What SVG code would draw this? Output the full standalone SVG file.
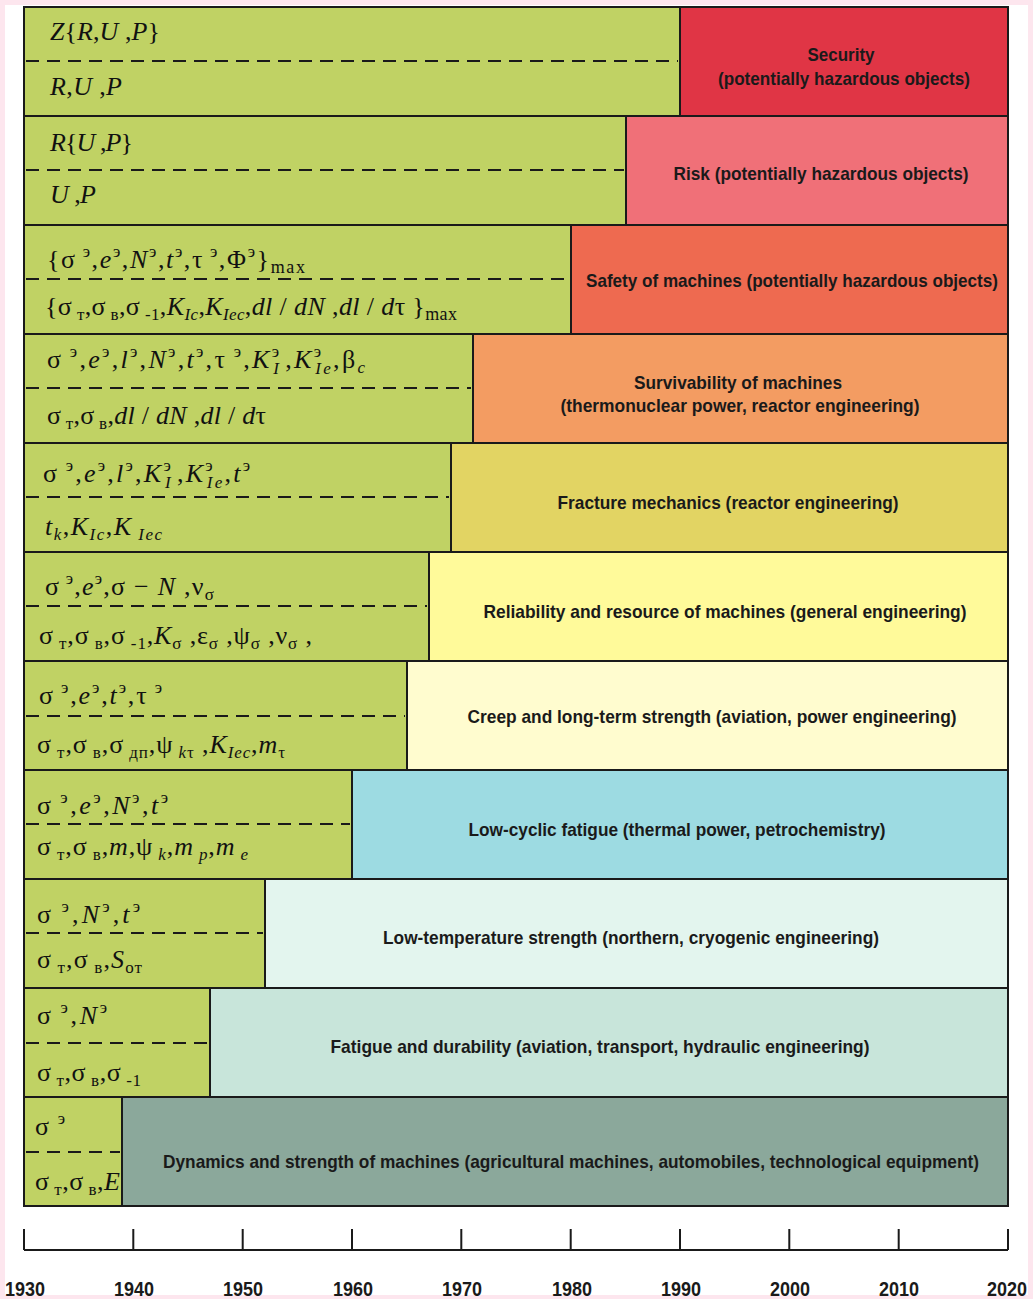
<svg xmlns="http://www.w3.org/2000/svg" width="1033" height="1299" viewBox="0 0 1033 1299">
<style>
.box{stroke:#1a1a1a;stroke-width:2}
.g{fill:#c0d264}
.dash{stroke:#1a1a1a;stroke-width:2;stroke-dasharray:13 8;fill:none}
.f{font-family:"Liberation Serif","Times New Roman",serif;font-size:26px;fill:#111}
.i{font-style:italic}
.s{font-size:17px}
.m{font-size:18px}
.lab{font-family:"Liberation Sans Narrow","Arial Narrow","Liberation Sans",sans-serif;font-weight:bold;font-size:19px;fill:#1a1a1a;text-anchor:middle}
.yr{font-family:"Liberation Sans Narrow","Arial Narrow","Liberation Sans",sans-serif;font-weight:bold;font-size:21px;fill:#1a1a1a;text-anchor:middle}
.ax{stroke:#1a1a1a;stroke-width:2;fill:none}
</style>
<rect x="0" y="0" width="1033" height="1299" fill="#fde6ee"/>
<rect x="5" y="5" width="1023" height="1290" fill="#ffffff"/>

<g id="row1">
<rect class="box g" x="24" y="7" width="656" height="109"/>
<rect class="box" fill="#e03545" x="680" y="7" width="328" height="109"/>
<line class="dash" x1="26" y1="61" x2="678" y2="61"/>
<text class="f" x="50" y="40" textLength="110" lengthAdjust="spacing"><tspan class="i">Z</tspan>{<tspan class="i">R</tspan>,<tspan class="i">U</tspan> ,<tspan class="i">P</tspan>}</text>
<text class="f" x="50" y="95" textLength="72" lengthAdjust="spacing"><tspan class="i">R</tspan>,<tspan class="i">U</tspan> ,<tspan class="i">P</tspan></text>
<text class="lab" x="841" y="61" textLength="67" lengthAdjust="spacingAndGlyphs">Security</text>
<text class="lab" x="844" y="85" textLength="252" lengthAdjust="spacingAndGlyphs">(potentially hazardous objects)</text>
</g>

<g id="row2">
<rect class="box g" x="24" y="116" width="602" height="109"/>
<rect class="box" fill="#f07078" x="626" y="116" width="382" height="109"/>
<line class="dash" x1="26" y1="170" x2="624" y2="170"/>
<text class="f" x="50" y="151" textLength="83" lengthAdjust="spacing"><tspan class="i">R</tspan>{<tspan class="i">U</tspan> ,<tspan class="i">P</tspan>}</text>
<text class="f" x="50" y="203" textLength="46" lengthAdjust="spacing"><tspan class="i">U</tspan> ,<tspan class="i">P</tspan></text>
<text class="lab" x="821" y="180" textLength="295" lengthAdjust="spacingAndGlyphs">Risk (potentially hazardous objects)</text>
</g>

<g id="row3">
<rect class="box g" x="24" y="225" width="547" height="109"/>
<rect class="box" fill="#ee6a50" x="571" y="225" width="437" height="109"/>
<line class="dash" x1="26" y1="279" x2="569" y2="279"/>
<text class="f" x="47" y="268" textLength="258" lengthAdjust="spacing">{σ<tspan class="s" dy="-11"> э</tspan><tspan dy="11">,</tspan><tspan class="i">e</tspan><tspan class="s" dy="-11">э</tspan><tspan dy="11">,</tspan><tspan class="i">N</tspan><tspan class="s" dy="-11">э</tspan><tspan dy="11">,</tspan><tspan class="i">t</tspan><tspan class="s" dy="-11">э</tspan><tspan dy="11">,</tspan>τ<tspan class="s" dy="-11"> э</tspan><tspan dy="11">,</tspan>Φ<tspan class="s" dy="-11">э</tspan><tspan dy="11">}</tspan><tspan class="m" dy="5">max</tspan></text>
<text class="f" x="45" y="315" textLength="412" lengthAdjust="spacing">{σ<tspan class="s" dy="5"> т</tspan><tspan dy="-5">,</tspan>σ<tspan class="s" dy="5"> в</tspan><tspan dy="-5">,</tspan>σ<tspan class="s" dy="5"> -1</tspan><tspan dy="-5">,</tspan><tspan class="i">K</tspan><tspan class="s i" dy="5">Ic</tspan><tspan dy="-5">,</tspan><tspan class="i">K</tspan><tspan class="s i" dy="5">Iec</tspan><tspan dy="-5">,</tspan><tspan class="i">dl</tspan> / <tspan class="i">dN</tspan> ,<tspan class="i">dl</tspan> / <tspan class="i">d</tspan>τ }<tspan class="m" dy="5">max</tspan></text>
<text class="lab" x="792" y="287" textLength="412" lengthAdjust="spacingAndGlyphs">Safety of machines (potentially hazardous objects)</text>
</g>

<g id="row4">
<rect class="box g" x="24" y="334" width="449" height="109"/>
<rect class="box" fill="#f39c62" x="473" y="334" width="535" height="109"/>
<line class="dash" x1="26" y1="388" x2="471" y2="388"/>
<text class="f" x="47" y="368" textLength="318" lengthAdjust="spacing">σ<tspan class="s" dy="-11"> э</tspan><tspan dy="11">,</tspan><tspan class="i">e</tspan><tspan class="s" dy="-11">э</tspan><tspan dy="11">,</tspan><tspan class="i">l</tspan><tspan class="s" dy="-11">э</tspan><tspan dy="11">,</tspan><tspan class="i">N</tspan><tspan class="s" dy="-11">э</tspan><tspan dy="11">,</tspan><tspan class="i">t</tspan><tspan class="s" dy="-11">э</tspan><tspan dy="11">,</tspan>τ<tspan class="s" dy="-11"> э</tspan><tspan dy="11">,</tspan><tspan class="i">K</tspan><tspan class="s" dy="-11">э</tspan><tspan class="s i" dx="-8" dy="17">I</tspan><tspan dx="4" dy="-6">,</tspan><tspan class="i">K</tspan><tspan class="s" dy="-11">э</tspan><tspan class="s i" dx="-8" dy="17">Ie</tspan><tspan dy="-6">,</tspan>β<tspan class="s i" dy="5">c</tspan></text>
<text class="f" x="47" y="424" textLength="219" lengthAdjust="spacing">σ<tspan class="s" dy="5"> т</tspan><tspan dy="-5">,</tspan>σ<tspan class="s" dy="5"> в</tspan><tspan dy="-5">,</tspan><tspan class="i">dl</tspan> / <tspan class="i">dN</tspan> ,<tspan class="i">dl</tspan> / <tspan class="i">d</tspan>τ</text>
<text class="lab" x="738" y="389" textLength="208" lengthAdjust="spacingAndGlyphs">Survivability of machines</text>
<text class="lab" x="740" y="412" textLength="359" lengthAdjust="spacingAndGlyphs">(thermonuclear power, reactor engineering)</text>
</g>

<g id="row5">
<rect class="box g" x="24" y="443" width="427" height="109"/>
<rect class="box" fill="#e2d463" x="451" y="443" width="557" height="109"/>
<line class="dash" x1="26" y1="497" x2="449" y2="497"/>
<text class="f" x="43" y="482" textLength="207" lengthAdjust="spacing">σ<tspan class="s" dy="-11"> э</tspan><tspan dy="11">,</tspan><tspan class="i">e</tspan><tspan class="s" dy="-11">э</tspan><tspan dy="11">,</tspan><tspan class="i">l</tspan><tspan class="s" dy="-11">э</tspan><tspan dy="11">,</tspan><tspan class="i">K</tspan><tspan class="s" dy="-11">э</tspan><tspan class="s i" dx="-8" dy="17">I</tspan><tspan dx="4" dy="-6">,</tspan><tspan class="i">K</tspan><tspan class="s" dy="-11">э</tspan><tspan class="s i" dx="-8" dy="17">Ie</tspan><tspan dy="-6">,</tspan><tspan class="i">t</tspan><tspan class="s" dy="-11">э</tspan></text>
<text class="f" x="45" y="535" textLength="117" lengthAdjust="spacing"><tspan class="i">t</tspan><tspan class="s i" dy="5">k</tspan><tspan dy="-5">,</tspan><tspan class="i">K</tspan><tspan class="s i" dy="5">Ic</tspan><tspan dy="-5">,</tspan><tspan class="i">K</tspan><tspan class="s i" dy="5"> Iec</tspan></text>
<text class="lab" x="728" y="509" textLength="341" lengthAdjust="spacingAndGlyphs">Fracture mechanics (reactor engineering)</text>
</g>

<g id="row6">
<rect class="box g" x="24" y="552" width="405" height="109"/>
<rect class="box" fill="#fffa9a" x="429" y="552" width="579" height="109"/>
<line class="dash" x1="26" y1="606" x2="427" y2="606"/>
<text class="f" x="45" y="595" textLength="169" lengthAdjust="spacing">σ<tspan class="s" dy="-11"> э</tspan><tspan dy="11">,</tspan><tspan class="i">e</tspan><tspan class="s" dy="-11">э</tspan><tspan dy="11">,</tspan>σ − <tspan class="i">N</tspan> ,ν<tspan class="s" dy="5">σ</tspan></text>
<text class="f" x="39" y="644" textLength="273" lengthAdjust="spacing">σ<tspan class="s" dy="5"> т</tspan><tspan dy="-5">,</tspan>σ<tspan class="s" dy="5"> в</tspan><tspan dy="-5">,</tspan>σ<tspan class="s" dy="5"> -1</tspan><tspan dy="-5">,</tspan><tspan class="i">K</tspan><tspan class="s" dy="5">σ</tspan><tspan dy="-5"> ,</tspan>ε<tspan class="s" dy="5">σ</tspan><tspan dy="-5"> ,</tspan>ψ<tspan class="s" dy="5">σ</tspan><tspan dy="-5"> ,</tspan>ν<tspan class="s" dy="5">σ</tspan><tspan dy="-5"> ,</tspan></text>
<text class="lab" x="725" y="618" textLength="483" lengthAdjust="spacingAndGlyphs">Reliability and resource of machines (general engineering)</text>
</g>

<g id="row7">
<rect class="box g" x="24" y="661" width="383" height="109"/>
<rect class="box" fill="#fffccf" x="407" y="661" width="601" height="109"/>
<line class="dash" x1="26" y1="716" x2="405" y2="716"/>
<text class="f" x="39" y="704" textLength="123" lengthAdjust="spacing">σ<tspan class="s" dy="-11"> э</tspan><tspan dy="11">,</tspan><tspan class="i">e</tspan><tspan class="s" dy="-11">э</tspan><tspan dy="11">,</tspan><tspan class="i">t</tspan><tspan class="s" dy="-11">э</tspan><tspan dy="11">,</tspan>τ<tspan class="s" dy="-11"> э</tspan></text>
<text class="f" x="37" y="753" textLength="248" lengthAdjust="spacing">σ<tspan class="s" dy="5"> т</tspan><tspan dy="-5">,</tspan>σ<tspan class="s" dy="5"> в</tspan><tspan dy="-5">,</tspan>σ<tspan class="s" dy="5"> дп</tspan><tspan dy="-5">,</tspan>ψ<tspan class="s i" dy="5"> k</tspan><tspan class="s">τ</tspan><tspan dy="-5"> ,</tspan><tspan class="i">K</tspan><tspan class="s i" dy="5">Iec</tspan><tspan dy="-5">,</tspan><tspan class="i">m</tspan><tspan class="s" dy="5">τ</tspan></text>
<text class="lab" x="712" y="723" textLength="489" lengthAdjust="spacingAndGlyphs">Creep and long-term strength (aviation, power engineering)</text>
</g>

<g id="row8">
<rect class="box g" x="24" y="770" width="328" height="109"/>
<rect class="box" fill="#9ddbe2" x="352" y="770" width="656" height="109"/>
<line class="dash" x1="26" y1="824" x2="350" y2="824"/>
<text class="f" x="37" y="814" textLength="131" lengthAdjust="spacing">σ<tspan class="s" dy="-11"> э</tspan><tspan dy="11">,</tspan><tspan class="i">e</tspan><tspan class="s" dy="-11">э</tspan><tspan dy="11">,</tspan><tspan class="i">N</tspan><tspan class="s" dy="-11">э</tspan><tspan dy="11">,</tspan><tspan class="i">t</tspan><tspan class="s" dy="-11">э</tspan></text>
<text class="f" x="37" y="855" textLength="211" lengthAdjust="spacing">σ<tspan class="s" dy="5"> т</tspan><tspan dy="-5">,</tspan>σ<tspan class="s" dy="5"> в</tspan><tspan dy="-5">,</tspan><tspan class="i">m</tspan>,ψ<tspan class="s i" dy="5"> k</tspan><tspan dy="-5">,</tspan><tspan class="i">m</tspan><tspan class="s i" dy="5"> p</tspan><tspan dy="-5">,</tspan><tspan class="i">m</tspan><tspan class="s i" dy="5"> e</tspan></text>
<text class="lab" x="677" y="836" textLength="417" lengthAdjust="spacingAndGlyphs">Low-cyclic fatigue (thermal power, petrochemistry)</text>
</g>

<g id="row9">
<rect class="box g" x="24" y="879" width="241" height="109"/>
<rect class="box" fill="#e3f5ee" x="265" y="879" width="743" height="109"/>
<line class="dash" x1="26" y1="933" x2="263" y2="933"/>
<text class="f" x="37" y="923" textLength="103" lengthAdjust="spacing">σ<tspan class="s" dy="-11"> э</tspan><tspan dy="11">,</tspan><tspan class="i">N</tspan><tspan class="s" dy="-11">э</tspan><tspan dy="11">,</tspan><tspan class="i">t</tspan><tspan class="s" dy="-11">э</tspan></text>
<text class="f" x="37" y="968" textLength="105" lengthAdjust="spacing">σ<tspan class="s" dy="5"> т</tspan><tspan dy="-5">,</tspan>σ<tspan class="s" dy="5"> в</tspan><tspan dy="-5">,</tspan><tspan class="i">S</tspan><tspan class="s" dy="5">от</tspan></text>
<text class="lab" x="631" y="944" textLength="496" lengthAdjust="spacingAndGlyphs">Low-temperature strength (northern, cryogenic engineering)</text>
</g>

<g id="row10">
<rect class="box g" x="24" y="988" width="186" height="109"/>
<rect class="box" fill="#c8e5da" x="210" y="988" width="798" height="109"/>
<line class="dash" x1="26" y1="1043" x2="208" y2="1043"/>
<text class="f" x="37" y="1024" textLength="70" lengthAdjust="spacing">σ<tspan class="s" dy="-11"> э</tspan><tspan dy="11">,</tspan><tspan class="i">N</tspan><tspan class="s" dy="-11">э</tspan></text>
<text class="f" x="37" y="1081" textLength="104" lengthAdjust="spacing">σ<tspan class="s" dy="5"> т</tspan><tspan dy="-5">,</tspan>σ<tspan class="s" dy="5"> в</tspan><tspan dy="-5">,</tspan>σ<tspan class="s" dy="5"> -1</tspan></text>
<text class="lab" x="600" y="1053" textLength="539" lengthAdjust="spacingAndGlyphs">Fatigue and durability (aviation, transport, hydraulic engineering)</text>
</g>

<g id="row11">
<rect class="box g" x="24" y="1097" width="98" height="109"/>
<rect class="box" fill="#8ba89b" x="122" y="1097" width="886" height="109"/>
<line class="dash" x1="26" y1="1152" x2="120" y2="1152"/>
<text class="f" x="35" y="1135" textLength="30" lengthAdjust="spacing">σ<tspan class="s" dy="-11"> э</tspan></text>
<text class="f" x="35" y="1190" textLength="85" lengthAdjust="spacing">σ<tspan class="s" dy="5"> т</tspan><tspan dy="-5">,</tspan>σ<tspan class="s" dy="5"> в</tspan><tspan dy="-5">,</tspan><tspan class="i">E</tspan></text>
<text class="lab" x="571" y="1168" textLength="816" lengthAdjust="spacingAndGlyphs">Dynamics and strength of machines (agricultural machines, automobiles, technological equipment)</text>
</g>

<g id="axis">
<path class="ax" d="M24 1250 H1008 M24 1229 V1250 M133.3 1229 V1250 M242.7 1229 V1250 M352 1229 V1250 M461.3 1229 V1250 M570.7 1229 V1250 M680 1229 V1250 M789.3 1229 V1250 M898.7 1229 V1250 M1008 1229 V1250"/>
<text class="yr" x="25" y="1296" textLength="40" lengthAdjust="spacingAndGlyphs">1930</text>
<text class="yr" x="134" y="1296" textLength="40" lengthAdjust="spacingAndGlyphs">1940</text>
<text class="yr" x="243" y="1296" textLength="40" lengthAdjust="spacingAndGlyphs">1950</text>
<text class="yr" x="353" y="1296" textLength="40" lengthAdjust="spacingAndGlyphs">1960</text>
<text class="yr" x="462" y="1296" textLength="40" lengthAdjust="spacingAndGlyphs">1970</text>
<text class="yr" x="572" y="1296" textLength="40" lengthAdjust="spacingAndGlyphs">1980</text>
<text class="yr" x="681" y="1296" textLength="40" lengthAdjust="spacingAndGlyphs">1990</text>
<text class="yr" x="790" y="1296" textLength="40" lengthAdjust="spacingAndGlyphs">2000</text>
<text class="yr" x="899" y="1296" textLength="40" lengthAdjust="spacingAndGlyphs">2010</text>
<text class="yr" x="1007" y="1296" textLength="40" lengthAdjust="spacingAndGlyphs">2020</text>
</g>
</svg>
